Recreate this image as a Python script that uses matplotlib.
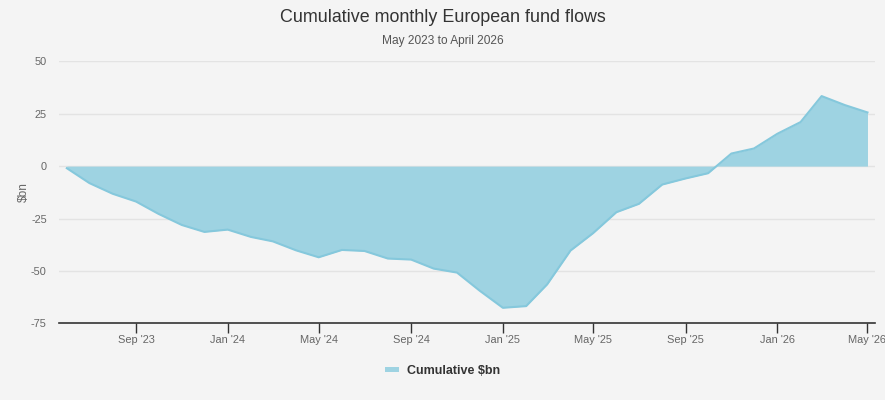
import matplotlib as mlp
import matplotlib.pyplot as plt
import pandas as pd
import datetime

mlp.rcParams['font.family'] = ['Liberation Sans', 'DejaVu Sans']

# monthly points, plotted at the end of each month (May 2023 .. Apr 2026)
months = pd.date_range('2023-06-01', periods=36, freq='MS')
cumulative = [-1.0, -8.1, -13.2, -16.9, -22.8, -28.1, -31.4, -30.3, -33.8, -35.9,
              -40.2, -43.5, -40.0, -40.5, -44.1, -44.6, -48.9, -50.8, -59.4, -67.6,
              -66.8, -56.4, -40.3, -32.0, -22.0, -18.0, -8.8, -5.9, -3.4, 6.0,
              8.4, 15.4, 21.0, 33.4, 29.1, 25.6]
tick_dates = pd.to_datetime(['2023-09-01', '2024-01-01', '2024-05-01', '2024-09-01',
                             '2025-01-01', '2025-05-01', '2025-09-01', '2026-01-01',
                             '2026-05-01'])
tick_labels = ["Sep '23", "Jan '24", "May '24", "Sep '24", "Jan '25", "May '25",
               "Sep '25", "Jan '26", "May '26"]
y_ticks = [-75, -50, -25, 0, 25, 50]

BG = '#f4f4f4'
FILL = '#9ed3e2'
LINE = '#85c8dc'

fig = plt.figure(figsize=(8.85, 4.0), dpi=100, facecolor=BG)
ax = fig.add_axes([59.3/885, 1-323.3/400, (875-59.3)/885, (323.3-61.3)/400])
ax.set_facecolor(BG)

ax.fill_between(months, cumulative, 0, facecolor=FILL, edgecolor=LINE, linewidth=0,
                label='Cumulative $bn')
ax.plot(months, cumulative, color=LINE, linewidth=1.5)

ax.set_ylim(-75, 50)
ax.set_xlim(datetime.datetime(2023, 5, 22), datetime.datetime(2026, 5, 11))

ax.set_yticks(y_ticks)
ax.set_yticklabels([str(v) for v in y_ticks])
for v in y_ticks[1:]:
    ax.axhline(v, color='#e3e3e3', linewidth=1, zorder=0)

ax.set_xticks(tick_dates)
ax.set_xticklabels(tick_labels)
ax.tick_params(axis='x', length=7, width=1, color='#333333', labelsize=7.9,
               labelcolor='#666666', pad=1.5)
ax.tick_params(axis='y', length=0, labelsize=7.9, labelcolor='#666666', pad=9)

for s in ['top', 'right', 'left']:
    ax.spines[s].set_visible(False)
ax.spines['bottom'].set_color('#333333')
ax.spines['bottom'].set_linewidth(1.2)

ax.set_ylabel('$bn', fontsize=8.6, color='#666666', labelpad=1)

fig.text(0.5, 1-18/400, 'Cumulative monthly European fund flows', ha='center', va='center',
         fontsize=12.9, color='#333333')
fig.text(0.5, 1-41/400, 'May 2023 to April 2026', ha='center', va='center',
         fontsize=8.6, color='#555555')

leg = ax.legend(loc='center', bbox_to_anchor=(0.5, 1-371/400), bbox_transform=fig.transFigure,
                frameon=False, handlelength=1.1, handleheight=0.35, handletextpad=0.6,
                prop={'size': 9, 'weight': 'bold'})
for t in leg.get_texts():
    t.set_color('#333333')

plt.savefig('out.png', dpi=100, facecolor=BG)
